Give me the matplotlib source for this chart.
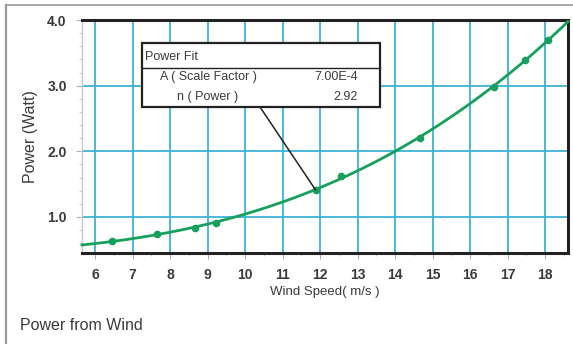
import matplotlib

matplotlib.use("Agg")
import matplotlib.pyplot as plt
import numpy as np
from matplotlib.lines import Line2D
from matplotlib.ticker import MultipleLocator

plt.rcParams["font.family"] = ["Liberation Sans", "DejaVu Sans"]

wind_speed = [6.45, 7.66, 8.67, 9.23, 11.88, 12.55, 14.66, 16.64, 17.46, 18.08]
power_watt = [0.63, 0.74, 0.83, 0.91, 1.41, 1.63, 2.20, 2.98, 3.39, 3.70]

x_ticks = [6, 7, 8, 9, 10, 11, 12, 13, 14, 15, 16, 17, 18]
y_ticks = [1.0, 2.0, 3.0, 4.0]

fit_title = "Power Fit"
fit_rows = [("A ( Scale Factor )", "7.00E-4"), ("n ( Power )", "2.92")]

GRID = "#3cb2d4"
GREEN = "#16a05c"
INK = "#3a3a3a"
FRAME = "#9a9a9a"

fig = plt.figure(figsize=(5.73, 3.44), dpi=100)
fig.patch.set_facecolor("white")

# outer page frame (top and left edges)
fig.add_artist(Line2D([6 / 573, 1.0], [1 - 5 / 344, 1 - 5 / 344],
                      transform=fig.transFigure, color=FRAME, lw=1.2))
fig.add_artist(Line2D([6 / 573, 6 / 573], [0, 1 - 5 / 344],
                      transform=fig.transFigure, color=FRAME, lw=1.6))

ax = fig.add_axes([82 / 573, 1 - 253 / 344, (568 - 82) / 573, (253 - 20) / 344])
ax.set_xlim(5.65, 18.61)
ax.set_ylim(0.45, 4.0)

ax.set_xticks(x_ticks)
ax.set_yticks(y_ticks)
ax.set_yticklabels([f"{v:.1f}" for v in y_ticks])
ax.xaxis.set_minor_locator(MultipleLocator(0.5))
ax.yaxis.set_minor_locator(MultipleLocator(0.2))
ax.grid(True, which="major", color=GRID, lw=1.3, zorder=0)
ax.tick_params(which="major", length=4, color="#b0b0b0", labelsize=10,
               labelcolor=INK, pad=7)
ax.tick_params(which="minor", length=2, color="#c0c0c0")
for lbl in ax.get_xticklabels() + ax.get_yticklabels():
    lbl.set_fontweight("bold")

for side in ("top", "right", "bottom"):
    ax.spines[side].set_color("#222222")
    ax.spines[side].set_linewidth(2.2)
ax.spines["left"].set_color("#c8c8c8")
ax.spines["left"].set_linewidth(1.0)

# power-law style fit through the measured points
coef = np.polyfit(wind_speed, power_watt, 3)
xs = np.linspace(5.65, 18.61, 200)
ax.plot(xs, np.polyval(coef, xs), color=GREEN, lw=2.0, zorder=3, clip_on=False)
ax.plot(wind_speed, power_watt, "o", color=GREEN, ms=4.5, zorder=4)

ax.set_xlabel("Wind Speed( m/s )", fontsize=9.5, color=INK, labelpad=3)
ax.set_ylabel("Power (Watt)", fontsize=11.5, color=INK, labelpad=7)

# fit parameter box
bx0, bx1 = 142 / 573, 380 / 573
by_top, by_sep, by_bot = 1 - 43 / 344, 1 - 68 / 344, 1 - 107 / 344
fig.add_artist(plt.Rectangle((bx0, by_bot), bx1 - bx0, by_top - by_bot,
                             transform=fig.transFigure, facecolor="white",
                             edgecolor="#222222", lw=1.6, zorder=10))
fig.add_artist(Line2D([bx0, bx1], [by_sep, by_sep], transform=fig.transFigure,
                      color="#222222", lw=1.0, zorder=11))
fig.text(145 / 573, 1 - 57 / 344, fit_title, fontsize=9, color=INK,
         ha="left", va="center", zorder=12)
for i, (name, val) in enumerate(fit_rows):
    yy = 1 - (77 + 20 * i) / 344
    fig.text(208 / 573, yy, name, fontsize=9, color=INK, ha="center",
             va="center", zorder=12)
    fig.text(358 / 573, yy, val, fontsize=9, color=INK, ha="right",
             va="center", zorder=12)

# leader line from box to the point at ~12 m/s
ax.annotate("", xy=(wind_speed[4], power_watt[4]),
            xytext=(260 / 573, by_bot), textcoords="figure fraction",
            arrowprops=dict(arrowstyle="-", color="#222222", lw=1.1,
                            shrinkA=0, shrinkB=0), zorder=9)

fig.text(20 / 573, 1 - 326 / 344, "Power from Wind", fontsize=11.5,
         color=INK, ha="left", va="center")

fig.savefig("out.png", dpi=100, facecolor="white")
